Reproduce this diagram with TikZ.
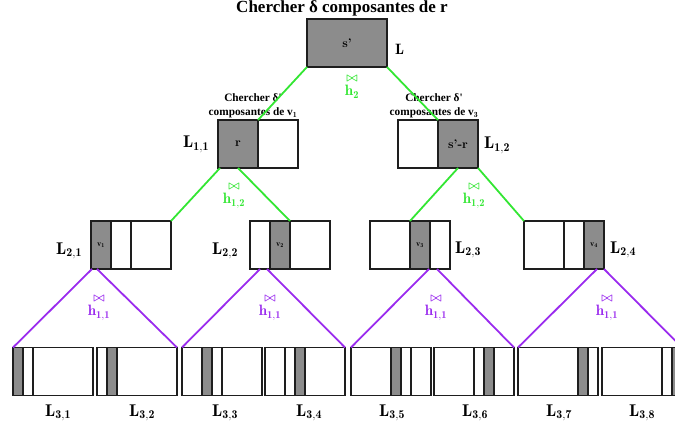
\documentclass[tikz,border=0pt]{standalone}
\usepackage{bm}
\usepackage{fontspec}
\newfontfamily\capfont{Liberation Serif}
\newcommand\vlabfont{\fontsize{8}{8}\selectfont}
\newcommand\joinsym{{\fontsize{12}{14}\selectfont$\bm{\bowtie}$}}
\definecolor{joingreen}{HTML}{33E633}
\definecolor{joinpurple}{HTML}{9A2BEE}
\definecolor{cellgray}{HTML}{8C8C8C}
\definecolor{edge}{HTML}{1E1E1E}

\begin{document}
\begin{tikzpicture}[x=1pt,y=-1pt,
  cell/.style={draw=edge, line width=1.1pt, minimum height=48pt, inner sep=0pt,
    outer sep=0pt, anchor=west, font=\fontsize{12.5}{12.5}\selectfont\bfseries},
  full/.style={cell, fill=cellgray},
  w10/.style={minimum width=10pt}, w20/.style={minimum width=20pt},
  w40/.style={minimum width=40pt}, w60/.style={minimum width=60pt},
  w80/.style={minimum width=80pt},
  lab/.style={font=\fontsize{17}{17}\selectfont, inner sep=0pt, anchor=base west},
  green join/.style={draw=joingreen, line width=1.8pt},
  purple join/.style={draw=joinpurple, line width=1.8pt},
  joinlab/.style={inner sep=0pt, align=center, anchor=north, font=\fontsize{15}{14}\selectfont},
  caption/.style={inner sep=0pt, align=center, font=\capfont\bfseries\fontsize{11.3}{14}\selectfont}
]
\clip (0,0) rectangle (675,425);
\useasboundingbox (0,0) rectangle (675,425);

% title
\node[inner sep=0pt, font=\capfont\bfseries\fontsize{17}{17}\selectfont] (title) at (342,8) {Chercher δ composantes de r};

% level 0
\node[full, w80] (top) at (307,43) {s'};
\node[lab, font=\fontsize{15}{15}\selectfont] (ltop) at (395,55) {$\mathbf{L}$};

% level 1
\node[full, w40] (a1) at (218,144) {r};
\node[cell, w40] (a2) at (a1.east) {};
\node[cell, w40] (b1) at (398,144) {};
\node[full, w40] (b2) at (b1.east) {s'-r};
\node[lab] (l11) at (183,148) {$\mathbf{L}_{\mathbf{1,1}}$};
\node[lab] (l12) at (484,149) {$\mathbf{L}_{\mathbf{1,2}}$};
\node[caption] (capa) at (253,106) {Chercher δ'\\composantes de v$_{\mathbf{1}}$};
\node[caption] (capb) at (434,106) {Chercher δ'\\composantes de v$_{\mathbf{3}}$};

% level 2
\node[full, w20] (c1) at (91,245) {\vlabfont$\mathbf{v}_{\mathbf{1}}$};
\node[cell, w20] (c2) at (c1.east) {};
\node[cell, w40] (c3) at (c2.east) {};
\node[cell, w20] (d1) at (250,245) {};
\node[full, w20] (d2) at (d1.east) {\vlabfont$\mathbf{v}_{\mathbf{2}}$};
\node[cell, w40] (d3) at (d2.east) {};
\node[cell, w40] (e1) at (370,245) {};
\node[full, w20] (e2) at (e1.east) {\vlabfont$\mathbf{v}_{\mathbf{3}}$};
\node[cell, w20] (e3) at (e2.east) {};
\node[cell, w40] (f1) at (524,245) {};
\node[cell, w20] (f2) at (f1.east) {};
\node[full, w20] (f3) at (f2.east) {\vlabfont$\mathbf{v}_{\mathbf{4}}$};
\node[lab] (l21) at (56,254) {$\mathbf{L}_{\mathbf{2,1}}$};
\node[lab] (l22) at (212,254) {$\mathbf{L}_{\mathbf{2,2}}$};
\node[lab] (l23) at (455,253) {$\mathbf{L}_{\mathbf{2,3}}$};
\node[lab] (l24) at (610,253) {$\mathbf{L}_{\mathbf{2,4}}$};

% level 3
\node[full, w10] (m1a) at (13,371.5) {};
\node[cell, w10] (m1b) at (m1a.east) {};
\node[cell, w60] (m1c) at (m1b.east) {};
\node[cell, w10] (m2a) at (97,371.5) {};
\node[full, w10] (m2b) at (m2a.east) {};
\node[cell, w60] (m2c) at (m2b.east) {};
\node[cell, w20] (m3a) at (182,371.5) {};
\node[full, w10] (m3b) at (m3a.east) {};
\node[cell, w10] (m3c) at (m3b.east) {};
\node[cell, w40] (m3d) at (m3c.east) {};
\node[cell, w20] (m4a) at (265,371.5) {};
\node[cell, w10] (m4b) at (m4a.east) {};
\node[full, w10] (m4c) at (m4b.east) {};
\node[cell, w40] (m4d) at (m4c.east) {};
\node[cell, w40] (m5a) at (351,371.5) {};
\node[full, w10] (m5b) at (m5a.east) {};
\node[cell, w10] (m5c) at (m5b.east) {};
\node[cell, w20] (m5d) at (m5c.east) {};
\node[cell, w40] (m6a) at (434,371.5) {};
\node[cell, w10] (m6b) at (m6a.east) {};
\node[full, w10] (m6c) at (m6b.east) {};
\node[cell, w20] (m6d) at (m6c.east) {};
\node[cell, w60] (m7a) at (518,371.5) {};
\node[full, w10] (m7b) at (m7a.east) {};
\node[cell, w10] (m7c) at (m7b.east) {};
\node[cell, w60] (m8a) at (602,371.5) {};
\node[cell, w10] (m8b) at (m8a.east) {};
\node[full, w10] (m8c) at (m8b.east) {};
\node[lab] (l31) at (45,416) {$\mathbf{L}_{\mathbf{3,1}}$};
\node[lab] (l32) at (129,416) {$\mathbf{L}_{\mathbf{3,2}}$};
\node[lab] (l33) at (212,416) {$\mathbf{L}_{\mathbf{3,3}}$};
\node[lab] (l34) at (296,416) {$\mathbf{L}_{\mathbf{3,4}}$};
\node[lab] (l35) at (379,416) {$\mathbf{L}_{\mathbf{3,5}}$};
\node[lab] (l36) at (462,416) {$\mathbf{L}_{\mathbf{3,6}}$};
\node[lab] (l37) at (546,416) {$\mathbf{L}_{\mathbf{3,7}}$};
\node[lab] (l38) at (629,416) {$\mathbf{L}_{\mathbf{3,8}}$};

% joins, level 0 -> 1
\draw[green join] (top.south west) -- (a1.north east);
\draw[green join] (top.south east) -- (b2.north west);
\node[joinlab, text=joingreen] (h2) at (352,76) {\joinsym\\$\mathbf{h}_{\mathbf{2}}$};

% joins, level 1 -> 2
\draw[green join] ([xshift=2pt]a1.south west) -- (c3.north east);
\draw[green join] (a1.south) -- (d2.north east);
\draw[green join] (b2.south) -- (e2.north west);
\draw[green join] (b2.south east) -- (f1.north west);
\node[joinlab, text=joingreen] (h12a) at (234,184) {\joinsym\\$\mathbf{h}_{\mathbf{1,2}}$};
\node[joinlab, text=joingreen] (h12b) at (474,184) {\joinsym\\$\mathbf{h}_{\mathbf{1,2}}$};

% joins, level 2 -> 3
\draw[purple join] ([xshift=1pt]c1.south west) -- (m1a.north west);
\draw[purple join] ([xshift=6pt]c1.south west) -- (m2c.north east);
\draw[purple join] ([xshift=10pt]d1.south west) -- (m3a.north west);
\draw[purple join] ([xshift=17pt]d1.south west) -- (m4d.north east);
\draw[purple join] ([xshift=-1pt]e2.south east) -- (m5a.north west);
\draw[purple join] ([xshift=7pt]e2.south east) -- (m6d.north east);
\draw[purple join] ([xshift=-7pt]f3.south east) -- (m7a.north west);
\draw[purple join] (f3.south east) -- ([xshift=80pt]m8a.north west);
\node[joinlab, text=joinpurple] (h11a) at (99,296) {\joinsym\\$\mathbf{h}_{\mathbf{1,1}}$};
\node[joinlab, text=joinpurple] (h11b) at (270,296) {\joinsym\\$\mathbf{h}_{\mathbf{1,1}}$};
\node[joinlab, text=joinpurple] (h11c) at (436,296) {\joinsym\\$\mathbf{h}_{\mathbf{1,1}}$};
\node[joinlab, text=joinpurple] (h11d) at (607,296) {\joinsym\\$\mathbf{h}_{\mathbf{1,1}}$};
\end{tikzpicture}
\end{document}
